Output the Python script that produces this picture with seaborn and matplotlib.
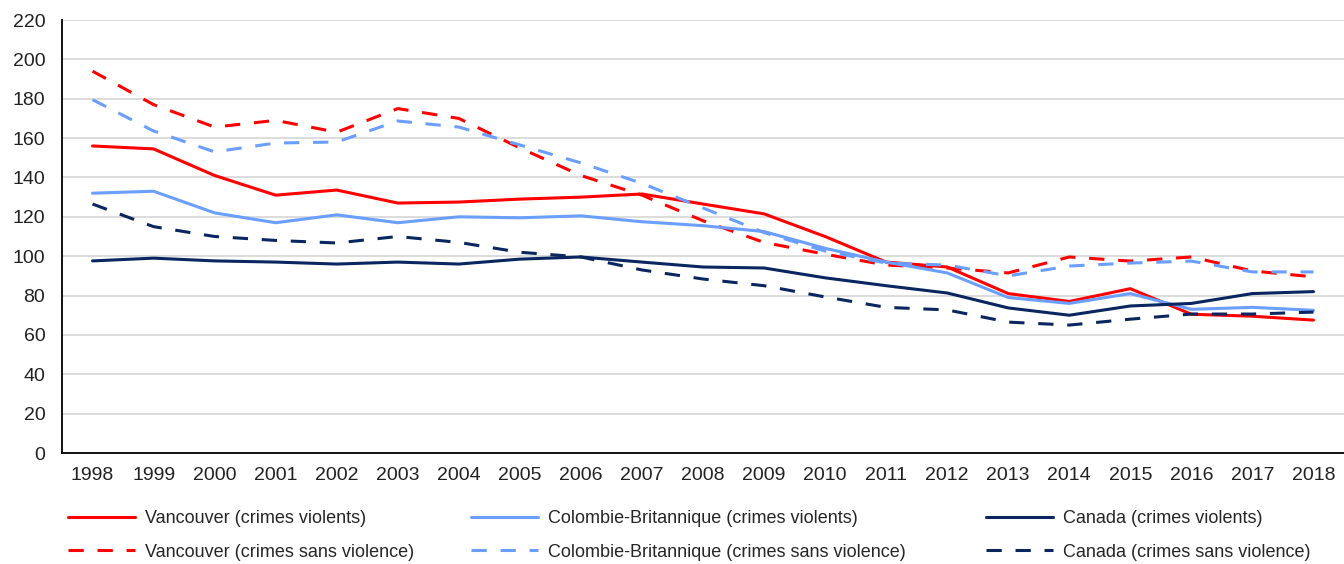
import pandas as pd
import matplotlib
matplotlib.use("Agg")
import matplotlib.pyplot as plt
import seaborn as sns
from matplotlib.ticker import MultipleLocator

# Data
years = list(range(1998, 2019))

van_violent = [156, 154.5, 141, 131, 133.6, 127, 127.5, 129, 130, 131.6, 126.5,
               121.5, 110, 97, 94.5, 81, 77, 83.5, 70.5, 69.5, 67.5]
van_nonviolent = [194, 177, 165.6, 169, 163, 175, 170, 155, 141, 131, 118,
                  107, 101, 95.5, 94, 91.5, 99.6, 97.5, 99.6, 92.5, 89.5]
bc_violent = [132, 133, 122, 117, 121, 117, 120, 119.5, 120.5, 117.5, 115.5,
              112.5, 104, 97, 91.5, 79, 76, 81, 73, 74, 72.5]
bc_nonviolent = [179.5, 163.6, 153, 157.5, 158, 168.7, 165.6, 156.5, 147.4, 137, 124.5,
                 112, 102.6, 96.5, 95.5, 90, 95, 96.5, 97.5, 92, 92]
ca_violent = [97.6, 99, 97.6, 97, 96, 97, 96, 98.5, 99.6, 97, 94.5,
              94, 89, 85, 81.3, 73.7, 70, 74.7, 76, 81, 82]
ca_nonviolent = [126.5, 115, 110, 108, 106.7, 110, 107, 102, 99.6, 93, 88.4,
                 85, 79.3, 74, 72.7, 66.5, 65, 68, 70.6, 70.6, 71.6]

labels = ["Vancouver (crimes violents)", "Vancouver (crimes sans violence)",
          "Colombie-Britannique (crimes violents)", "Colombie-Britannique (crimes sans violence)",
          "Canada (crimes violents)", "Canada (crimes sans violence)"]
series = [van_violent, van_nonviolent, bc_violent, bc_nonviolent, ca_violent, ca_nonviolent]
colors = ["#FF0000", "#FF0000", "#6A9EFF", "#6A9EFF", "#0A2660", "#0A2660"]
dashed = [False, True, False, True, False, True]

sns.set_style("white")
plt.rcParams["font.family"] = ["Liberation Sans", "DejaVu Sans"]

W, H = 1344, 564
fig = plt.figure(figsize=(W / 100, H / 100), dpi=100)
ax = fig.add_axes([62 / W, 1 - 453 / H, 1 - 62 / W, (453 - 20) / H])

x = list(range(len(years)))
handles = []
for vals, lab, col, dsh in zip(series, labels, colors, dashed):
    df = pd.DataFrame({"x": x, "v": vals})
    sns.lineplot(data=df, x="x", y="v", ax=ax, color=col, linewidth=2.2,
                 label=lab, legend=False)
    line = ax.lines[-1]
    if dsh:
        line.set_dashes([5, 4.5])
    handles.append(line)

ax.set_xlim(-0.5, len(years) - 0.5)
ax.set_ylim(0, 220)
ax.yaxis.set_major_locator(MultipleLocator(20))
ax.grid(axis="y", color="#D9D9D9", linewidth=1.3)
ax.set_axisbelow(True)
ax.set_xticks(x)
ax.set_xticklabels([str(y) for y in years])
ax.set_xticks([i - 0.5 for i in range(len(years) + 1)], minor=True)
ax.tick_params(axis="x", which="major", length=0, pad=10, labelsize=14, colors="#222222")
ax.tick_params(axis="x", which="minor", length=5, width=1, color="black", direction="in")
ax.tick_params(axis="y", length=0, pad=12, labelsize=14, colors="#222222")
ax.set_xlabel("")
ax.set_ylabel("")
for s in ["top", "right"]:
    ax.spines[s].set_visible(False)
for s in ["left", "bottom"]:
    ax.spines[s].set_color("black")
    ax.spines[s].set_linewidth(1.3)

# legend: one column per region, placed like the reference
col_x = [68, 471, 986]
for c, px in enumerate(col_x):
    i, j = 2 * c, 2 * c + 1
    fig.legend([handles[i], handles[j]], [labels[i], labels[j]],
               loc="upper left", bbox_to_anchor=(px / W, 1 - 510 / H),
               frameon=False, fontsize=13, handlelength=3.7, handletextpad=0.55,
               labelspacing=0.92, borderpad=0, borderaxespad=0)

fig.savefig("out.png", dpi=100)
